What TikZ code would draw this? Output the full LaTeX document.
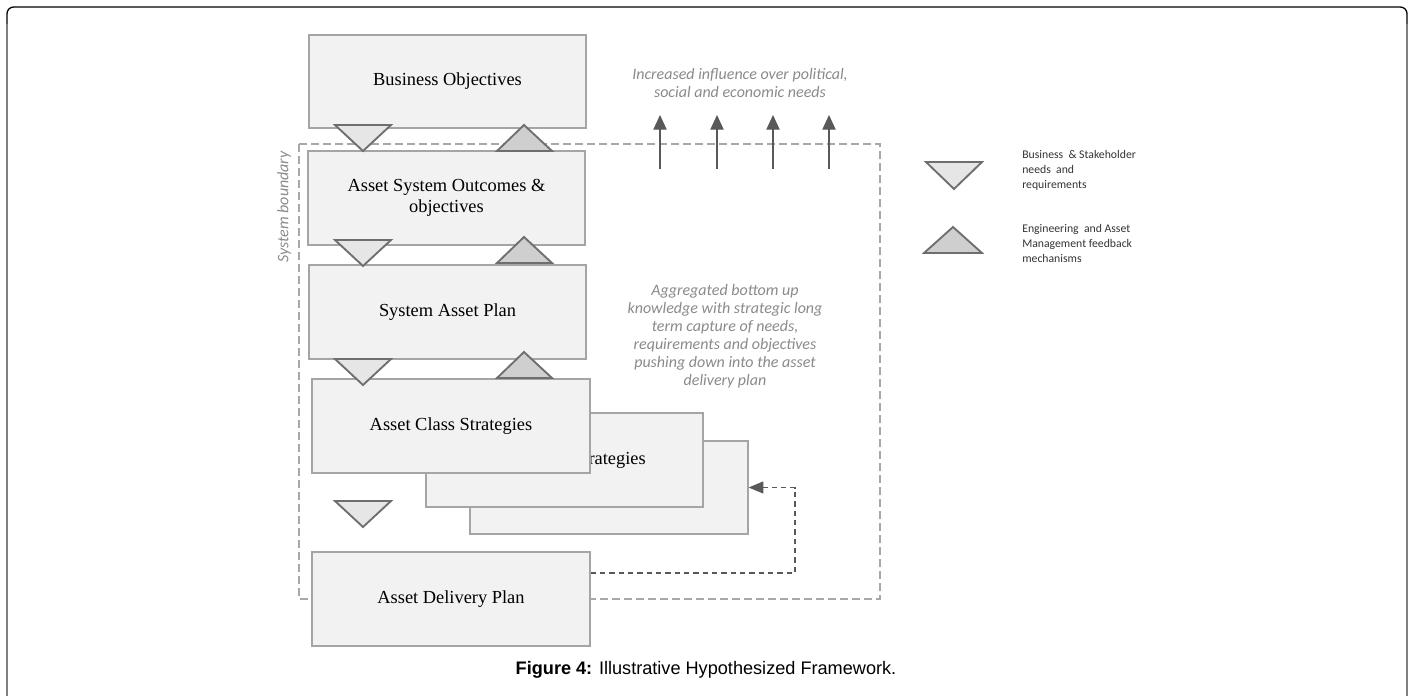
\documentclass[tikz,border=0pt]{standalone}
\usepackage{fontspec}
\setmainfont{Liberation Serif}
\newfontfamily\calib{Carlito}
\newfontfamily\arial{Liberation Sans}
\usetikzlibrary{arrows.meta}
\definecolor{boxfill}{HTML}{F2F2F2}
\definecolor{boxedge}{HTML}{A5A5A5}
\definecolor{needfill}{HTML}{E6E6E6}
\definecolor{feedfill}{HTML}{CFCFCF}
\definecolor{tridark}{HTML}{6E6E6E}
\definecolor{arrowgray}{HTML}{595959}
\definecolor{notegray}{HTML}{8A8A8A}
\definecolor{bordergray}{HTML}{A8A8A8}

\begin{document}
\begin{tikzpicture}[x=0.75pt,y=-0.75pt]
        \tikzstyle{plan}=[rectangle,draw=boxedge,line width=1.5pt,fill=boxfill,minimum width=208pt,minimum height=70pt,inner sep=0pt,align=center,font=\fontsize{13.8}{16}\selectfont]
        \tikzstyle{needtri}=[draw=tridark,line width=1.4pt,fill=needfill]
        \tikzstyle{feedtri}=[draw=tridark,line width=1.4pt,fill=feedfill]
        \tikzstyle{note}=[text=notegray,align=center,font=\calib\itshape\fontsize{12}{13.5}\selectfont]
        \tikzstyle{legend}=[text=black!80,align=left,inner sep=0pt,font=\calib\fontsize{8.8}{11.3}\selectfont]
        \tikzstyle{boundary}=[draw=bordergray,line width=0.8pt,dash pattern=on 6pt off 3pt]
        \tikzstyle{influence}=[draw=arrowgray,line width=0.8pt,-{Triangle[length=11pt,width=10pt]}]
        \tikzstyle{feedback}=[draw=arrowgray,line width=0.8pt,dash pattern=on 4pt off 3pt,-{Triangle[length=11pt,width=9pt]}]
        \useasboundingbox (0,0) rectangle (1412,696);

        % page frame
        \draw[black,line width=1pt,rounded corners=5pt] (7,24) -- (7,7) -- (1407,7) -- (1407,24);
        \draw[gray,line width=2pt] (7,24) -- (7,696);
        \draw[gray,line width=1.5pt] (1407,24) -- (1407,696);

        % system boundary
        \draw[boundary] (299,144) rectangle (880,599);
        \node[note,rotate=90] (sysb) at (284,207) {System boundary};

        % planning levels
        \node [plan] (BO) at (447.5,81.5) {Business Objectives};
        \node [plan] (ASO) at (446.5,198) {Asset System Outcomes \&\\objectives};
        \node [plan] (SAP) at (447.5,312) {System Asset Plan};
        \node [plan] (ACS3) at (609,487.5) {};
        \node [plan] (ACS2) at (564.5,460) {Asset Class Strategies};
        \node [plan] (ACS) at (451,426) {Asset Class Strategies};
        \node [plan] (ADP) at (451,599) {Asset Delivery Plan};

        % needs down, feedback up
        \foreach \y in {125,240,359,501}
          \draw[needtri] (335,\y) -- (391,\y) -- (363,\y+26) -- cycle;
        \foreach \y in {151,263,378}
          \draw[feedtri] (497,\y) -- (552,\y) -- (524,\y-26) -- cycle;

        % influence arrows
        \foreach \x [count=\i] in {660,717,773,829} {
          \coordinate (inflow\i) at (\x,169);
          \coordinate (infhigh\i) at (\x,115);
          \draw[influence] (inflow\i) -- (infhigh\i);
        }
        \node[note] (influence) at (740,83) {Increased influence over political,\\social and economic needs};
        \node[note] (aggregated) at (725,336) {Aggregated bottom up\\knowledge with strategic long\\term capture of needs,\\requirements and objectives\\pushing down into the asset\\delivery plan};

        % feedback from delivery plan
        \coordinate (fbturn) at (795,573);
        \draw[feedback] (ADP.east |- fbturn) -- (fbturn) |- (ACS3.east);

        % legend
        \draw[needtri] (926,162) -- (982,162) -- (954,189) -- cycle;
        \draw[feedtri] (924,253) -- (982,253) -- (953,227) -- cycle;
        \node[legend,anchor=north west] (needtxt) at (1022,150) {Business \ \& Stakeholder\\needs \ and\\requirements};
        \node[legend,anchor=north west] (feedtxt) at (1022,224) {Engineering \ and Asset\\Management feedback\\mechanisms};

        % caption
        \node[font=\arial\fontsize{13.6}{16}\selectfont] (caption) at (706,670) {\textbf{Figure 4:} Illustrative Hypothesized Framework.};
\end{tikzpicture}
\end{document}
